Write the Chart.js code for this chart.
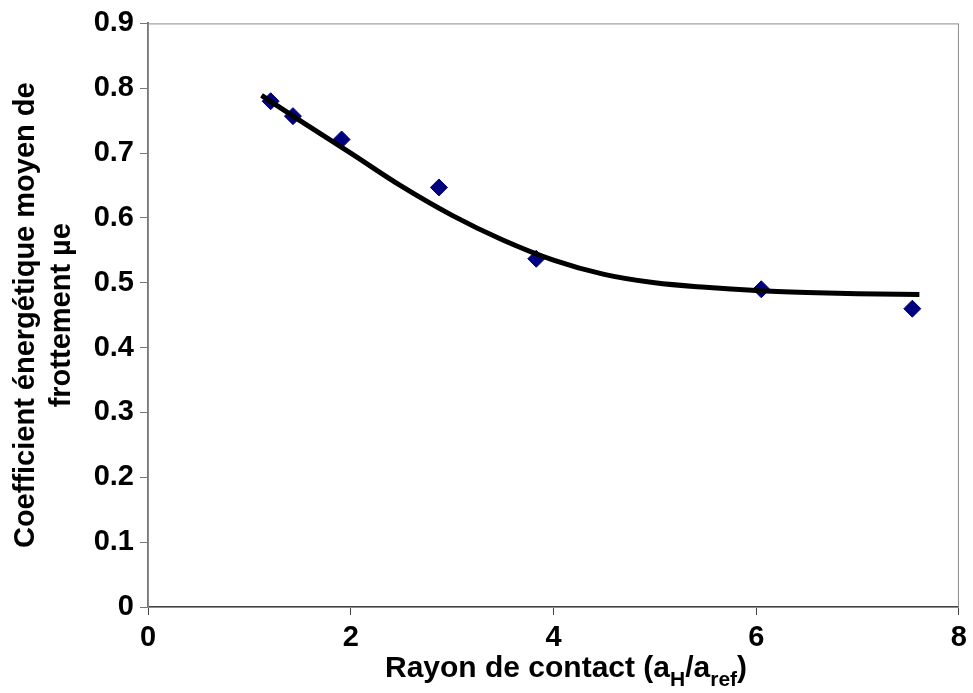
<!DOCTYPE html>
<html>
<head>
<meta charset="utf-8">
<script src="https://cdn.jsdelivr.net/npm/chart.js@4.4.1/dist/chart.umd.min.js"></script>
<style>
  body { margin: 0; background: #fff; }
  #wrap { width: 973px; height: 693px; position: relative; }
</style>
</head>
<body>
<div id="wrap"><canvas id="frottement"></canvas></div>
<script>
// mesures (rayon de contact, coefficient)
var rayon = [1.21, 1.43, 1.91, 2.87, 3.83, 6.05, 7.54];
var coeff = [0.78, 0.757, 0.721, 0.647, 0.537, 0.490, 0.460];

// courbe de tendance
var tendX = [1.12, 1.5, 2.0, 2.5, 3.0, 3.5, 4.0, 4.5, 5.0, 5.5, 6.0, 6.5, 7.0, 7.61];
var tendY = [0.789, 0.750, 0.700, 0.649, 0.604, 0.566, 0.535, 0.513, 0.500, 0.493, 0.488, 0.485, 0.483, 0.482];

var xTickLabels = ['0', '2', '4', '6', '8'];
var yTickLabels = ['0', '0.1', '0.2', '0.3', '0.4', '0.5', '0.6', '0.7', '0.8', '0.9'];

var FONT = '"Liberation Sans", Arial, sans-serif';

var points = rayon.map(function (x, i) { return { x: x, y: coeff[i] }; });
var tendance = tendX.map(function (x, i) { return { x: x, y: tendY[i] }; });

// cadre gris autour de la zone de tracé
var cadre = {
    id: 'cadre',
    beforeDatasetsDraw: function (chart) {
        var a = chart.chartArea, ctx = chart.ctx;
        ctx.save();
        ctx.strokeStyle = '#8c8c8c';
        ctx.lineWidth = 1;
        ctx.strokeRect(a.left + 0.5, a.top + 0.5, a.right - a.left - 1, a.bottom - a.top);
        ctx.restore();
    }
};

// titre de l'axe x avec indices
var titreX = {
    id: 'titreX',
    afterDraw: function (chart) {
        var ctx = chart.ctx;
        var parts = [
            ['Rayon de contact (a', false],
            ['H', true],
            ['/a', false],
            ['ref', true],
            [')', false]
        ];
        var big = 'bold 30px ' + FONT, small = 'bold 21px ' + FONT;
        ctx.save();
        var total = 0;
        parts.forEach(function (p) {
            ctx.font = p[1] ? small : big;
            total += ctx.measureText(p[0]).width;
        });
        var x = 566 - total / 2, base = 677;
        ctx.fillStyle = '#000';
        ctx.textBaseline = 'alphabetic';
        parts.forEach(function (p) {
            ctx.font = p[1] ? small : big;
            ctx.fillText(p[0], x, p[1] ? base + 9 : base);
            x += ctx.measureText(p[0]).width;
        });
        ctx.restore();
    }
};

new Chart(document.getElementById('frottement').getContext('2d'), {
    type: 'scatter',
    data: {
        datasets: [{
            label: 'Tendance',
            data: tendance,
            showLine: true,
            borderColor: '#000',
            borderWidth: 5,
            pointRadius: 0,
            fill: false,
            cubicInterpolationMode: 'monotone'
        }, {
            label: 'Mesures',
            data: points,
            pointStyle: 'rectRot',
            pointRadius: 8.5,
            backgroundColor: '#000080',
            borderColor: '#000080',
            borderWidth: 1
        }]
    },
    options: {
        responsive: true,
        maintainAspectRatio: false,
        animation: false,
        layout: { padding: { top: 20, right: 13, left: 0, bottom: 0 } },
        plugins: {
            legend: { display: false },
            tooltip: { enabled: false }
        },
        scales: {
            x: {
                type: 'linear',
                min: 0,
                max: 8,
                afterFit: function (s) { s.height = 86; },
                afterBuildTicks: function (s) {
                    s.ticks = xTickLabels.map(function (t) { return { value: Number(t) }; });
                },
                ticks: {
                    color: '#000',
                    padding: 6,
                    font: { family: FONT, size: 29, weight: 'bold' },
                    callback: function (v) { return xTickLabels[xTickLabels.indexOf(String(v))]; }
                },
                grid: {
                    drawOnChartArea: false,
                    drawTicks: true,
                    tickLength: 8,
                    color: '#444'
                },
                border: { display: true, color: '#444', width: 2 }
            },
            y: {
                type: 'linear',
                min: 0,
                max: 0.9,
                afterFit: function (s) { s.width = 148; },
                afterBuildTicks: function (s) {
                    s.ticks = yTickLabels.map(function (t) { return { value: Number(t) }; });
                },
                ticks: {
                    color: '#000',
                    padding: 6,
                    font: { family: FONT, size: 29, weight: 'bold' },
                    callback: function (v, i) { return yTickLabels[i]; }
                },
                grid: {
                    drawOnChartArea: false,
                    drawTicks: true,
                    tickLength: 8,
                    color: '#777'
                },
                border: { display: true, color: '#777', width: 2 },
                title: {
                    display: true,
                    text: ['Coefficient énergétique moyen de', 'frottement µe'],
                    color: '#000',
                    font: { family: FONT, size: 29, weight: 'bold', lineHeight: 1.25 },
                    padding: { top: 8, bottom: 0 }
                }
            }
        }
    },
    plugins: [cadre, titreX]
});
</script>
</body>
</html>
